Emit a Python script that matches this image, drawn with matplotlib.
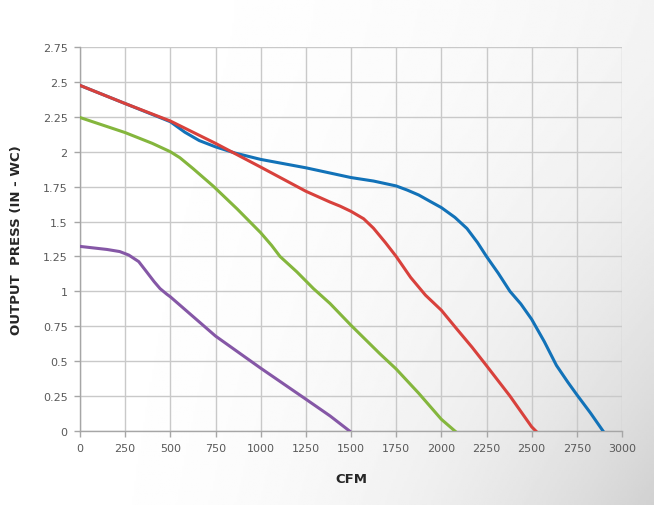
import numpy as np
import matplotlib
matplotlib.use('Agg')
import matplotlib.pyplot as plt

# fan curves (CFM vs output pressure, in-WC)
blue_cfm = [0, 250, 500, 580, 660, 750, 860, 1000, 1250, 1500, 1625, 1750, 1812, 1875,
            1937, 2000, 2075, 2142, 2200, 2250, 2315, 2380, 2440, 2500, 2570, 2637,
            2700, 2750, 2825, 2895]
blue_p = [2.475, 2.345, 2.215, 2.14, 2.08, 2.035, 1.99, 1.945, 1.885, 1.815, 1.79, 1.755,
          1.725, 1.69, 1.645, 1.6, 1.53, 1.45, 1.35, 1.25, 1.13, 1.0, 0.91, 0.8, 0.64,
          0.47, 0.35, 0.26, 0.13, 0.0]

red_cfm = [0, 250, 500, 750, 1000, 1250, 1383, 1440, 1500, 1570, 1624, 1690, 1750,
           1830, 1912, 2000, 2084, 2170, 2250, 2380, 2500, 2523]
red_p = [2.475, 2.345, 2.22, 2.06, 1.89, 1.717, 1.64, 1.61, 1.573, 1.52, 1.453, 1.35,
         1.25, 1.1, 0.973, 0.865, 0.733, 0.6, 0.468, 0.25, 0.03, 0.0]

green_cfm = [0, 250, 400, 500, 553, 625, 738, 870, 1000, 1060, 1107, 1200, 1292, 1384,
             1500, 1660, 1750, 1875, 2000, 2075]
green_p = [2.245, 2.137, 2.06, 2.0, 1.957, 1.88, 1.753, 1.59, 1.42, 1.33, 1.25, 1.14,
           1.02, 0.913, 0.757, 0.553, 0.444, 0.27, 0.084, 0.0]

purple_cfm = [0, 150, 220, 270, 325, 368, 410, 443, 480, 500, 750, 1000, 1250, 1384, 1492]
purple_p = [1.322, 1.30, 1.285, 1.26, 1.213, 1.141, 1.07, 1.02, 0.98, 0.961, 0.68, 0.45,
            0.228, 0.108, 0.0]

x_ticks = [0, 250, 500, 750, 1000, 1250, 1500, 1750, 2000, 2250, 2500, 2750, 3000]
y_ticks = [0, 0.25, 0.5, 0.75, 1, 1.25, 1.5, 1.75, 2, 2.25, 2.5, 2.75]
y_labels = ['0', '0.25', '0.5', '0.75', '1', '1.25', '1.5', '1.75', '2', '2.25', '2.5', '2.75']

W, H = 654, 506
fig = plt.figure(figsize=(W / 100, H / 100), dpi=100)

# grey gradient background, darker towards bottom right
bg = fig.add_axes([0, 0, 1, 1], zorder=0)
gx, gy = np.meshgrid(np.linspace(0, 1, 300), np.linspace(0, 1, 240))
dark = (gx ** 2.4) * (0.25 + 0.75 * gy ** 1.6) * 0.18
bg.imshow(1 - dark, cmap='gray', vmin=0, vmax=1, aspect='auto',
          extent=[0, 1, 0, 1], origin='upper')
bg.axis('off')

ax = fig.add_axes([80 / W, (H - 432) / H, 542 / W, 384 / H], zorder=1)
ax.patch.set_alpha(0)

lw = 2.2
ax.plot(blue_cfm, blue_p, color='#1272b8', lw=lw, solid_joinstyle='round', zorder=3)
ax.plot(red_cfm, red_p, color='#d8413c', lw=lw, solid_joinstyle='round', zorder=4)
ax.plot(green_cfm, green_p, color='#84b63d', lw=lw, solid_joinstyle='round', zorder=3)
ax.plot(purple_cfm, purple_p, color='#8557a6', lw=lw, solid_joinstyle='round', zorder=3)

ax.set_xlim(0, 3000)
ax.set_ylim(0, 2.75)
ax.set_xticks(x_ticks)
ax.set_yticks(y_ticks)
ax.set_yticklabels(y_labels)
ax.grid(True, color='#c9c9c9', lw=1.0)
ax.set_axisbelow(True)

for s in ['top', 'right']:
    ax.spines[s].set_visible(False)
for s in ['left', 'bottom']:
    ax.spines[s].set_color('#a6a6a6')
    ax.spines[s].set_linewidth(1.0)

ax.tick_params(direction='out', length=4, width=1, color='#a6a6a6',
               labelsize=8, labelcolor='#595959', pad=5)

ax.set_xlabel('CFM', fontsize=9.5, fontweight='bold', color='#262626', labelpad=13)
ax.set_ylabel('OUTPUT  PRESS (IN - WC)', fontsize=9.5, fontweight='bold',
              color='#262626', labelpad=14)

plt.savefig('out.png', dpi=100)
